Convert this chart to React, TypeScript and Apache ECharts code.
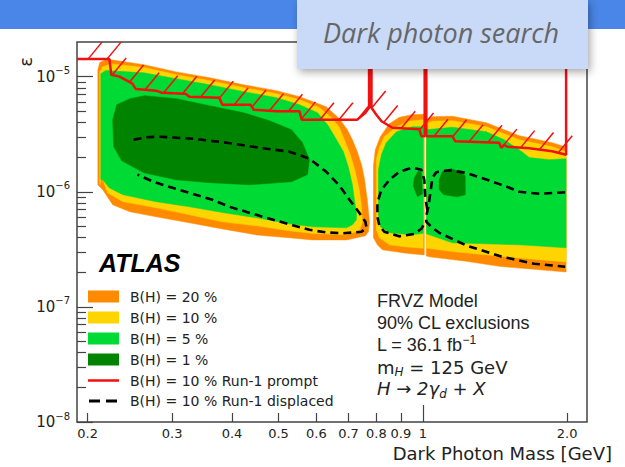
import React, { useEffect, useRef } from 'react';
import * as echarts from 'echarts';

// Axis ticks
const massTicks = [0.2, 0.3, 0.4, 0.5, 0.6, 0.7, 0.8, 0.9, 1, 2];
const massTickLabels = ['0.2', '0.3', '0.4', '0.5', '0.6', '0.7', '0.8', '0.9', '1', '2.0'];
const epsDecades = [-8, -7, -6, -5];
const massRange = [0.19, 2.2];
const epsRange = [1e-8, 2e-5];

// Exclusion contours: [dark photon mass (GeV), epsilon]
const contour20Left = [
  [0.21, 1.15e-6], [0.21, 1.15e-5], [0.212, 1.33e-5], [0.218, 1.4e-5], [0.224, 1.4e-5],
  [0.262, 1.27e-5], [0.306, 1.1e-5], [0.359, 9.8e-6], [0.423, 8.5e-6], [0.495, 7.56e-6],
  [0.553, 6.7e-6], [0.629, 5.48e-6], [0.67, 4.31e-6], [0.696, 3.46e-6], [0.713, 2.83e-6],
  [0.73, 2.23e-6], [0.745, 1.72e-6], [0.755, 1.32e-6], [0.766, 8.5e-7], [0.774, 5.48e-7],
  [0.77, 4.49e-7], [0.759, 4.14e-7], [0.693, 3.82e-7], [0.589, 3.82e-7], [0.527, 3.98e-7],
  [0.45, 4.22e-7], [0.382, 4.76e-7], [0.326, 5.37e-7], [0.278, 6.06e-7], [0.245, 6.7e-7],
  [0.2255, 7.71e-7], [0.215, 1.04e-6],
];
const contour10Left = [
  [0.212, 1.15e-6], [0.212, 1.1e-5], [0.215, 1.22e-5], [0.224, 1.29e-5], [0.262, 1.2e-5],
  [0.306, 1.04e-5], [0.359, 9.23e-6], [0.423, 8.02e-6], [0.495, 7.11e-6], [0.553, 6.31e-6],
  [0.609, 5.37e-6], [0.648, 4.31e-6], [0.67, 3.6e-6], [0.686, 2.83e-6], [0.706, 2.1e-6],
  [0.723, 1.49e-6], [0.737, 1.04e-6], [0.745, 7.41e-7], [0.748, 5.48e-7], [0.737, 4.58e-7],
  [0.693, 4.23e-7], [0.589, 4.35e-7], [0.527, 4.58e-7], [0.45, 5.06e-7], [0.382, 5.48e-7],
  [0.326, 6.31e-7], [0.278, 7.26e-7], [0.237, 8.2e-7], [0.22, 9.8e-7], [0.214, 1.35e-6],
];
const contour5Left = [
  [0.213, 1.27e-6], [0.213, 1.06e-5], [0.218, 1.13e-5], [0.262, 1.08e-5], [0.306, 9.6e-6],
  [0.359, 8.52e-6], [0.423, 7.41e-6], [0.495, 6.57e-6], [0.553, 5.71e-6], [0.603, 4.86e-6],
  [0.633, 3.82e-6], [0.657, 2.95e-6], [0.683, 2.23e-6], [0.7, 1.62e-6], [0.713, 1.15e-6],
  [0.72, 8.52e-7], [0.727, 6.57e-7], [0.727, 5.71e-7], [0.713, 5.16e-7], [0.693, 4.86e-7],
  [0.589, 4.96e-7], [0.527, 5.27e-7], [0.45, 5.94e-7], [0.382, 6.6e-7], [0.326, 7.41e-7],
  [0.278, 8.19e-7], [0.237, 9.42e-7], [0.222, 1.08e-6], [0.215, 1.27e-6],
];
const contour1Left = [
  [0.2255, 4.23e-6], [0.23, 5.71e-6], [0.245, 6.44e-6], [0.263, 6.84e-6], [0.306, 6.44e-6],
  [0.359, 5.59e-6], [0.423, 4.86e-6], [0.479, 4.14e-6], [0.532, 3.46e-6], [0.561, 2.67e-6],
  [0.58, 1.9e-6], [0.575, 1.41e-6], [0.532, 1.22e-6], [0.435, 1.15e-6], [0.359, 1.2e-6],
  [0.306, 1.27e-6], [0.262, 1.46e-6], [0.2355, 1.86e-6], [0.2266, 2.46e-6],
];

const contour20Mid = [
  [0.789, 3.98e-7], [0.789, 1.68e-6], [0.796, 2.32e-6], [0.8156, 3.01e-6], [0.8516, 3.9e-6],
  [0.8934, 4.44e-6], [0.951, 4.67e-6], [1.007, 4.72e-6], [1.007, 2.83e-7], [0.924, 2.92e-7],
  [0.8235, 3.13e-7], [0.804, 3.46e-7],
];
const contour10Mid = [
  [0.8, 4.67e-7], [0.8, 1.9e-6], [0.812, 2.41e-6], [0.831, 3.01e-6], [0.881, 3.67e-6],
  [0.937, 4.1e-6], [1.002, 4.23e-6], [1.002, 3.23e-7], [0.924, 3.32e-7], [0.852, 3.46e-7],
  [0.812, 3.98e-7],
];
const contour5Mid = [
  [0.808, 6.31e-7], [0.808, 1.55e-6], [0.8195, 2.1e-6], [0.839, 2.67e-6], [0.881, 3.32e-6],
  [0.951, 3.67e-6], [1.002, 3.67e-6], [1.002, 4.36e-7], [0.951, 4.23e-7], [0.852, 4.4e-7],
  [0.8156, 4.96e-7],
];
const contour1Mid = [
  [0.96, 1.32e-6], [0.979, 1.52e-6], [0.993, 1.46e-6], [0.998, 9.6e-7], [0.974, 9.05e-7],
  [0.955, 1.13e-6],
];

const contour20Right = [
  [1.017, 4.23e-6], [1.047, 4.49e-6], [1.152, 4.53e-6], [1.356, 3.98e-6], [1.589, 3.07e-6],
  [1.861, 2.67e-6], [1.99, 2.44e-6], [1.99, 2.01e-7], [1.443, 2.25e-7], [1.232, 2.49e-7],
  [1.032, 2.72e-7], [1.017, 2.77e-7],
];
const contour10Right = [
  [1.017, 3.9e-6], [1.047, 4.1e-6], [1.152, 4.14e-6], [1.356, 3.67e-6], [1.589, 2.83e-6],
  [1.861, 2.46e-6], [1.99, 2.23e-6], [1.99, 2.46e-7], [1.465, 2.74e-7], [1.152, 3.03e-7],
  [1.017, 3.24e-7],
];
const contour5Right = [
  [1.017, 3.46e-6], [1.152, 3.64e-6], [1.356, 3.32e-6], [1.478, 2.83e-6], [1.589, 2.32e-6],
  [1.667, 1.98e-6], [1.835, 1.9e-6], [1.99, 1.94e-6], [1.99, 3.26e-7], [1.589, 3.46e-7],
  [1.152, 3.6e-7], [1.017, 4.31e-7],
];
const contour1Right = [
  [1.082, 1.27e-6], [1.098, 1.49e-6], [1.146, 1.59e-6], [1.191, 1.49e-6], [1.226, 1.38e-6],
  [1.226, 9.42e-7], [1.18, 9.05e-7], [1.106, 9.42e-7], [1.082, 1.04e-6],
];

// Run-1 limits, B(H) = 10 %
const run1Prompt = [
  [0.19, 1.42e-5], [0.222, 1.42e-5], [0.224, 1.04e-5], [0.233, 1.0e-5], [0.248, 8.7e-6],
  [0.252, 7.8e-6], [0.278, 7.56e-6], [0.285, 7.26e-6], [0.32, 7.11e-6], [0.326, 6.7e-6],
  [0.376, 6.57e-6], [0.382, 5.71e-6], [0.437, 5.71e-6], [0.444, 5.16e-6], [0.495, 5.01e-6],
  [0.553, 5.01e-6], [0.559, 4.23e-6], [0.73, 4.23e-6], [0.759, 4.86e-6], [0.7725, 5.37e-6],
  [0.7725, 2e-5], [0.7815, 2e-5], [0.7815, 5.37e-6], [0.8, 4.67e-6], [0.82, 4.1e-6],
  [0.864, 3.6e-6], [0.983, 3.5e-6], [0.993, 3.04e-6], [1.009, 3.04e-6], [1.009, 2e-5],
  [1.017, 2e-5], [1.017, 3.04e-6], [1.152, 3.04e-6], [1.168, 2.75e-6], [1.443, 2.67e-6],
  [1.457, 2.41e-6], [1.478, 2.56e-6], [1.5, 2.46e-6], [1.667, 2.39e-6], [1.861, 2.25e-6],
  [1.99, 2.1e-6], [1.99, 2e-5],
];
const run1DisplacedLeft = [
  [0.2493, 2.83e-6], [0.265, 2.98e-6], [0.2825, 3.01e-6], [0.331, 2.89e-6], [0.39, 2.67e-6],
  [0.4565, 2.41e-6], [0.527, 2.23e-6], [0.58, 1.94e-6], [0.629, 1.49e-6], [0.67, 1.13e-6],
  [0.703, 8.52e-7], [0.737, 6.57e-7], [0.759, 5.48e-7], [0.763, 4.86e-7], [0.745, 4.49e-7],
  [0.68, 4.36e-7], [0.629, 4.43e-7], [0.58, 4.67e-7], [0.535, 5.11e-7], [0.4565, 6.18e-7],
  [0.395, 7.41e-7], [0.364, 8.52e-7], [0.326, 9.8e-7], [0.292, 1.12e-6], [0.273, 1.23e-6],
  [0.254, 1.41e-6],
];
const run1DisplacedRight = [
  [1.981, 9.9e-7], [1.749, 9.6e-7], [1.589, 1.0e-6], [1.493, 1.11e-6], [1.356, 1.28e-6],
  [1.232, 1.46e-6], [1.135, 1.54e-6], [1.067, 1.48e-6], [1.047, 1.32e-6], [1.037, 9.8e-7],
  [1.027, 7.41e-7], [1.017, 6.18e-7], [1.017, 5.48e-7], [1.047, 4.86e-7], [1.082, 4.4e-7],
  [1.238, 3.39e-7], [1.457, 2.74e-7], [1.707, 2.37e-7], [1.981, 2.23e-7],
];
const run1DisplacedMid = [
  [1.022, 6.98e-7], [1.012, 8.87e-7], [1.007, 1.27e-6], [0.993, 1.55e-6], [0.951, 1.62e-6],
  [0.893, 1.49e-6], [0.852, 1.27e-6], [0.8195, 1.04e-6], [0.804, 8.02e-7], [0.804, 6.06e-7],
  [0.812, 5.06e-7], [0.831, 4.49e-7], [0.893, 4.1e-7], [0.96, 4.31e-7], [0.993, 4.77e-7],
  [1.012, 5.48e-7],
];

const legendLabels = [
  'B(H) = 20 %', 'B(H) = 10 %', 'B(H) = 5 %', 'B(H) = 1 %',
  'B(H) = 10 % Run-1 prompt', 'B(H) = 10 % Run-1 displaced',
];

const ORANGE = '#ff8a00';
const YELLOW = '#ffd500';
const GREEN = '#00da35';
const DARK = '#008400';
const RED = '#f01010';
const AXIS = '#444';
const TEXT = '#222';
const DEJAVU = '"DejaVu Sans", sans-serif';
const ARIAL = '"Liberation Sans", Arial, sans-serif';

const lg = Math.log10;
const toLog = (pts: number[][]) => pts.map(([m, e]) => [lg(m), lg(e)]);

function areaSeries(name: string, pts: number[][], color: string) {
  const data = toLog(pts);
  return {
    type: 'custom',
    name,
    silent: true,
    data,
    renderItem: (params: any, api: any) => {
      if (params.dataIndex !== 0) return null;
      return {
        type: 'polygon',
        shape: { points: data.map((p) => api.coord(p)) },
        style: { fill: color, stroke: color, lineWidth: 0.5 },
      };
    },
  };
}

function lineSeries(name: string, pts: number[][], style: any) {
  return {
    type: 'line',
    name,
    silent: true,
    data: toLog(pts),
    showSymbol: false,
    symbol: 'none',
    z: 4,
    lineStyle: style,
  };
}

// Hatching on the excluded side of the prompt limit
function hatchSeries(pts: number[][], color: string) {
  const data = toLog(pts);
  const step = 19;
  const dx = 14;
  const dy = -17;
  return {
    type: 'custom',
    silent: true,
    z: 4,
    data,
    renderItem: (params: any, api: any) => {
      if (params.dataIndex !== 0) return null;
      const px = data.map((p) => api.coord(p));
      const corner = api.coord([lg(massRange[0]), lg(epsRange[1])]);
      const left = corner[0];
      const top = corner[1];
      const children: any[] = [];
      let carry = 11;
      for (let i = 0; i < px.length - 1; i++) {
        const [x0, y0] = px[i];
        const [x1, y1] = px[i + 1];
        const len = Math.hypot(x1 - x0, y1 - y0);
        if (Math.abs(x1 - x0) < 0.5 || len === 0) continue;
        let t = carry;
        while (t <= len) {
          const sx = x0 + ((x1 - x0) * t) / len;
          const sy = y0 + ((y1 - y0) * t) / len;
          let ex = sx + dx;
          let ey = sy + dy;
          if (ey < top) {
            const f = (sy - top) / (sy - ey);
            ex = sx + (ex - sx) * f;
            ey = top;
          }
          if (sy > top + 1 && sx >= left) {
            children.push({
              type: 'line',
              shape: { x1: sx, y1: sy, x2: ex, y2: ey },
              style: { stroke: color, lineWidth: 1.5 },
            });
          }
          t += step;
        }
        carry = t - len;
      }
      return { type: 'group', children };
    },
  };
}

function buildOption() {
  const xMin = lg(massRange[0]);
  const xMax = lg(massRange[1]);
  const yMin = lg(epsRange[0]);
  const yMax = lg(epsRange[1]);

  const minorEps: number[] = [];
  for (let d = -8; d < -5; d++) for (let k = 2; k <= 9; k++) minorEps.push(d + lg(k));

  const shortMassTicks = massTicks.filter((m) => m !== 1).map(lg);
  const massLabel = (v: number) => {
    let best = 0;
    massTicks.forEach((m, i) => {
      if (Math.abs(lg(m) - v) < Math.abs(lg(massTicks[best]) - v)) best = i;
    });
    return massTickLabels[best];
  };

  const legendY = [296.5, 317.5, 338.5, 359.5, 380.5, 401];
  const legendColors = [ORANGE, YELLOW, GREEN, DARK];
  const legendGraphics: any[] = [];
  legendColors.forEach((c, i) => {
    legendGraphics.push({
      type: 'rect',
      z: 50,
      shape: { x: 88, y: legendY[i] - 6, width: 31, height: 12 },
      style: { fill: c },
    });
  });
  legendGraphics.push({
    type: 'line',
    z: 50,
    shape: { x1: 88, y1: legendY[4], x2: 119, y2: legendY[4] },
    style: { stroke: RED, lineWidth: 2.5 },
  });
  legendGraphics.push({
    type: 'line',
    z: 50,
    shape: { x1: 89, y1: legendY[5], x2: 117, y2: legendY[5] },
    style: { stroke: '#000', lineWidth: 3, lineDash: [11, 6] },
  });
  legendLabels.forEach((t, i) => {
    legendGraphics.push({
      type: 'text',
      z: 50,
      x: 130,
      y: legendY[i],
      style: { text: t, fill: TEXT, fontSize: 14, fontFamily: DEJAVU, align: 'left', verticalAlign: 'middle' },
    });
  });

  const infoLine = (y: number, text: string, rich: any, font: string) => ({
    type: 'text',
    z: 50,
    x: 377,
    y,
    style: { text, rich, fill: TEXT, fontSize: 18, fontFamily: font, align: 'left', verticalAlign: 'middle' },
  });

  const hiddenLine = { show: false, onZero: false };

  return {
    animation: false,
    backgroundColor: '#fff',
    textStyle: { fontFamily: DEJAVU },
    grid: {
      left: 77,
      top: 42,
      right: 38,
      bottom: 45,
      show: true,
      borderColor: AXIS,
      borderWidth: 1.5,
      outerBoundsMode: 'none',
    },
    xAxis: [
      {
        type: 'value',
        min: xMin,
        max: xMax,
        position: 'bottom',
        axisLine: hiddenLine,
        splitLine: { show: false },
        axisTick: { inside: true, length: 9, customValues: shortMassTicks, lineStyle: { color: AXIS, width: 1.2 } },
        axisLabel: {
          customValues: massTicks.map(lg),
          formatter: massLabel,
          margin: 5,
          fontSize: 13,
          color: TEXT,
          fontFamily: DEJAVU,
        },
      },
      {
        type: 'value',
        min: xMin,
        max: xMax,
        position: 'bottom',
        axisLine: hiddenLine,
        splitLine: { show: false },
        axisTick: { inside: true, length: 17, customValues: [0], lineStyle: { color: AXIS, width: 1.2 } },
        axisLabel: { show: false },
      },
    ],
    yAxis: [
      {
        type: 'value',
        min: yMin,
        max: yMax,
        position: 'left',
        axisLine: hiddenLine,
        splitLine: { show: false },
        axisTick: { inside: true, length: 16, customValues: epsDecades, lineStyle: { color: AXIS, width: 1.2 } },
        axisLabel: {
          customValues: epsDecades,
          margin: 7,
          color: TEXT,
          formatter: (v: number) => `{m|10}{e|\u2212${Math.round(-v)}}`,
          rich: {
            m: { fontSize: 15, lineHeight: 22, fontFamily: DEJAVU, color: TEXT },
            e: { fontSize: 10, lineHeight: 14, verticalAlign: 'top', fontFamily: DEJAVU, color: TEXT },
          },
        },
      },
      {
        type: 'value',
        min: yMin,
        max: yMax,
        position: 'left',
        axisLine: hiddenLine,
        splitLine: { show: false },
        axisTick: { inside: true, length: 9, customValues: minorEps, lineStyle: { color: AXIS, width: 1.2 } },
        axisLabel: { show: false },
      },
    ],
    series: [
      areaSeries('B(H) = 20 %', contour20Left, ORANGE),
      areaSeries('B(H) = 20 %', contour20Mid, ORANGE),
      areaSeries('B(H) = 20 %', contour20Right, ORANGE),
      areaSeries('B(H) = 10 %', contour10Left, YELLOW),
      areaSeries('B(H) = 10 %', contour10Mid, YELLOW),
      areaSeries('B(H) = 10 %', contour10Right, YELLOW),
      areaSeries('B(H) = 5 %', contour5Left, GREEN),
      areaSeries('B(H) = 5 %', contour5Mid, GREEN),
      areaSeries('B(H) = 5 %', contour5Right, GREEN),
      areaSeries('B(H) = 1 %', contour1Left, DARK),
      areaSeries('B(H) = 1 %', contour1Mid, DARK),
      areaSeries('B(H) = 1 %', contour1Right, DARK),
      lineSeries('B(H) = 10 % Run-1 displaced', run1DisplacedLeft, { color: '#000', width: 2.6, type: [8, 5] }),
      lineSeries('B(H) = 10 % Run-1 displaced', run1DisplacedMid, { color: '#000', width: 2.6, type: [8, 5] }),
      lineSeries('B(H) = 10 % Run-1 displaced', run1DisplacedRight, { color: '#000', width: 2.6, type: [8, 5] }),
      lineSeries('B(H) = 10 % Run-1 prompt', run1Prompt, { color: RED, width: 2.5 }),
      hatchSeries(run1Prompt, RED),
    ],
    graphic: [
      {
        type: 'text',
        z: 50,
        x: 25,
        y: 62,
        rotation: Math.PI / 2,
        style: { text: '\u03b5', fill: TEXT, fontSize: 18, fontFamily: DEJAVU, align: 'center', verticalAlign: 'middle' },
      },
      {
        type: 'text',
        z: 50,
        x: 612,
        y: 453,
        style: { text: 'Dark Photon Mass [GeV]', fill: TEXT, fontSize: 18, fontFamily: DEJAVU, align: 'right', verticalAlign: 'middle' },
      },
      {
        type: 'text',
        z: 50,
        x: 99,
        y: 263,
        style: { text: 'ATLAS', fill: '#000', fontSize: 25, fontWeight: 'bold', fontStyle: 'italic', fontFamily: ARIAL, align: 'left', verticalAlign: 'middle' },
      },
      ...legendGraphics,
      infoLine(301, 'FRVZ Model', undefined, ARIAL),
      infoLine(323, '90% CL exclusions', undefined, ARIAL),
      infoLine(345, '{a|L = 36.1 fb}{s|\u22121}', {
        a: { fontSize: 18, lineHeight: 22, fontFamily: ARIAL, fill: TEXT },
        s: { fontSize: 12, lineHeight: 12, verticalAlign: 'top', fontFamily: ARIAL, fill: TEXT },
      }, ARIAL),
      infoLine(367, '{a|m}{b|H}{a| = 125 GeV}', {
        a: { fontSize: 18, lineHeight: 22, fontFamily: DEJAVU, fill: TEXT },
        b: { fontSize: 12, lineHeight: 14, verticalAlign: 'bottom', fontStyle: 'italic', fontFamily: DEJAVU, fill: TEXT },
      }, DEJAVU),
      infoLine(388.5, '{a|H \u2192 2\u03b3}{b|d}{a| + X}', {
        a: { fontSize: 18, lineHeight: 22, fontStyle: 'italic', fontFamily: DEJAVU, fill: TEXT },
        b: { fontSize: 12, lineHeight: 14, verticalAlign: 'bottom', fontStyle: 'italic', fontFamily: DEJAVU, fill: TEXT },
      }, DEJAVU),
      // Slide header and caption box
      {
        type: 'rect',
        z: 100,
        shape: { x: 0, y: 0, width: 625, height: 29 },
        style: { fill: '#4a86e8' },
      },
      {
        type: 'rect',
        z: 101,
        shape: { x: 297, y: 0, width: 291, height: 69 },
        style: {
          fill: '#c9daf8',
          shadowBlur: 8,
          shadowOffsetX: 2,
          shadowOffsetY: 3,
          shadowColor: 'rgba(0,0,0,0.35)',
        },
      },
      {
        type: 'text',
        z: 102,
        x: 441,
        y: 32,
        style: {
          text: 'Dark photon search',
          fill: '#666',
          fontSize: 27,
          fontStyle: 'italic',
          fontFamily: '"Open Sans", sans-serif',
          align: 'center',
          verticalAlign: 'middle',
        },
      },
    ],
  };
}

export default function App() {
  const ref = useRef<HTMLDivElement>(null);
  useEffect(() => {
    document.body.style.margin = '0';
    const chart = echarts.init(ref.current as HTMLDivElement, null, { renderer: 'svg' });
    chart.setOption(buildOption() as any);
    return () => chart.dispose();
  }, []);
  return <div ref={ref} style={{ width: 625, height: 467 }} />;
}
